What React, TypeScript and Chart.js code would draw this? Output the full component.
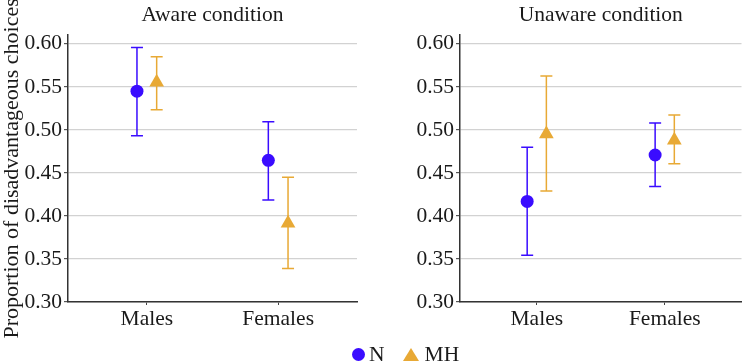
import React, { useEffect, useRef } from "react";
import { Chart, registerables } from "chart.js";

Chart.register(...registerables);

// Categories and series
const categories = ["Males", "Females"];
const seriesNames = ["N", "MH"];
const panelTitles = ["Aware condition", "Unaware condition"];
const yAxisTitle = "Proportion of disadvantageous choices";
const yTicks = [0.3, 0.35, 0.4, 0.45, 0.5, 0.55, 0.6];

// Aware condition: means and confidence limits per category
const awareN = [0.545, 0.4646];
const awareNLow = [0.4932, 0.4184];
const awareNHigh = [0.5957, 0.5096];
const awareMH = [0.5554, 0.3914];
const awareMHLow = [0.5235, 0.339];
const awareMHHigh = [0.585, 0.445];

// Unaware condition
const unawareN = [0.4169, 0.4708];
const unawareNLow = [0.3544, 0.4343];
const unawareNHigh = [0.4797, 0.508];
const unawareMH = [0.4952, 0.488];
const unawareMHLow = [0.4289, 0.4607];
const unawareMHHigh = [0.5627, 0.5173];

const COLOR_N = "#3a0cff";
const COLOR_MH = "#e8a935";
const FONT = "'Liberation Serif', 'Times New Roman', serif";
const FONT_SIZE = 21.5;
const CAPTION_SIZE = 22;
const DODGE = 0.075;

type Series = { mean: number[]; low: number[]; high: number[] };

const errorBarPlugin = {
  id: "errorBars",
  beforeDatasetsDraw(chart: any) {
    const { ctx, scales } = chart;
    const xs = scales.x;
    const ys = scales.y;
    chart.data.datasets.forEach((ds: any) => {
      const low: number[] = ds.errLow;
      const high: number[] = ds.errHigh;
      ctx.save();
      ctx.strokeStyle = ds.borderColor;
      ctx.lineWidth = 1.5;
      ds.data.forEach((pt: any, i: number) => {
        const x = xs.getPixelForValue(pt.x);
        const y1 = ys.getPixelForValue(low[i]);
        const y2 = ys.getPixelForValue(high[i]);
        const cap = 6;
        ctx.beginPath();
        ctx.moveTo(x, y1);
        ctx.lineTo(x, y2);
        ctx.moveTo(x - cap, y1);
        ctx.lineTo(x + cap, y1);
        ctx.moveTo(x - cap, y2);
        ctx.lineTo(x + cap, y2);
        ctx.stroke();
      });
      ctx.restore();
    });
  },
};

// Rotated y-axis caption, centred on the plot area at the left edge
const yCaptionPlugin = {
  id: "yCaption",
  afterDraw(chart: any) {
    const text = chart.options.plugins.yCaption?.text;
    if (!text) return;
    const { ctx, chartArea } = chart;
    ctx.save();
    ctx.translate(12, (chartArea.top + chartArea.bottom) / 2);
    ctx.rotate(-Math.PI / 2);
    ctx.fillStyle = "#1a1a1a";
    ctx.font = `${CAPTION_SIZE}px ${FONT}`;
    ctx.textAlign = "center";
    ctx.textBaseline = "middle";
    ctx.fillText(text, 0, 0);
    ctx.restore();
  },
};

function makeDataset(label: string, s: Series, offset: number, color: string, style: string, radius: number) {
  return {
    label,
    data: s.mean.map((v, i) => ({ x: i + 1 + offset, y: v })),
    errLow: s.low,
    errHigh: s.high,
    backgroundColor: color,
    borderColor: color,
    borderWidth: 0,
    pointStyle: style,
    pointRadius: radius,
    showLine: false,
  };
}

function Panel({
  title,
  n,
  mh,
  caption,
  yWidth,
  padRight,
  width,
}: {
  title: string;
  n: Series;
  mh: Series;
  caption: string;
  yWidth: number;
  padRight: number;
  width: number;
}) {
  const ref = useRef<HTMLCanvasElement>(null);
  useEffect(() => {
    if (!ref.current) return;
    const chart = new Chart(ref.current, {
      type: "scatter",
      data: {
        datasets: [
          makeDataset(seriesNames[0], n, -DODGE, COLOR_N, "circle", 6.5) as any,
          makeDataset(seriesNames[1], mh, DODGE, COLOR_MH, "triangle", 8.5) as any,
        ],
      },
      options: {
        responsive: false,
        animation: false,
        devicePixelRatio: 1,
        layout: { padding: { left: 0, right: padRight, top: 0, bottom: 0 } },
        plugins: {
          legend: { display: false },
          tooltip: { enabled: false },
          yCaption: { text: caption },
          title: {
            display: true,
            text: title,
            fullSize: false,
            color: "#1a1a1a",
            font: { family: FONT, size: FONT_SIZE, weight: "normal" },
            padding: { top: 2, bottom: 7 },
          },
        } as any,
        scales: {
          x: {
            type: "linear",
            min: 0.4,
            max: 2.6,
            afterBuildTicks: (axis: any) => {
              axis.ticks = categories.map((_, i) => ({ value: i + 1 }));
            },
            afterFit: (axis: any) => {
              axis.height = 62;
            },
            ticks: {
              callback: (v: any) => categories[Math.round(Number(v)) - 1] ?? "",
              color: "#1a1a1a",
              font: { family: FONT, size: FONT_SIZE },
              padding: 1,
              maxRotation: 0,
              autoSkip: false,
            },
            grid: { display: true, drawOnChartArea: false, tickLength: 3, tickColor: "#444", lineWidth: 1 },
            border: { display: true, color: "#333", width: 1.5 },
          },
          y: {
            min: 0.3,
            max: 0.6105,
            afterBuildTicks: (axis: any) => {
              axis.ticks = yTicks.map((v) => ({ value: v }));
            },
            afterFit: (axis: any) => {
              axis.width = yWidth;
            },
            ticks: {
              callback: (v: any) => Number(v).toFixed(2),
              color: "#1a1a1a",
              font: { family: FONT, size: FONT_SIZE },
              padding: 2,
            },
            grid: { color: "#d2d2d2", lineWidth: 1.2, tickLength: 4, tickColor: "#555" },
            border: { display: true, color: "#333", width: 1.5 },
          },
        },
      },
      plugins: [errorBarPlugin, yCaptionPlugin],
    });
    return () => chart.destroy();
  }, []);
  return <canvas ref={ref} width={width} height={364} style={{ display: "block" }} />;
}

export default function App() {
  useEffect(() => {
    document.body.style.margin = "0";
  }, []);
  return (
    <div style={{ position: "relative", width: 750, height: 364, background: "#fff", overflow: "hidden" }}>
      <div style={{ display: "flex" }}>
        <Panel
          title={panelTitles[0]}
          n={{ mean: awareN, low: awareNLow, high: awareNHigh }}
          mh={{ mean: awareMH, low: awareMHLow, high: awareMHHigh }}
          caption={yAxisTitle}
          yWidth={68}
          padRight={18}
          width={375}
        />
        <Panel
          title={panelTitles[1]}
          n={{ mean: unawareN, low: unawareNLow, high: unawareNHigh }}
          mh={{ mean: unawareMH, low: unawareMHLow, high: unawareMHHigh }}
          caption=""
          yWidth={85}
          padRight={1}
          width={375}
        />
      </div>
      <div
        style={{
          position: "absolute",
          top: 343,
          left: 352,
          display: "flex",
          alignItems: "center",
          fontFamily: FONT,
          fontSize: FONT_SIZE,
          color: "#1a1a1a",
          lineHeight: "22px",
        }}
      >
        <span style={{ width: 13, height: 13, borderRadius: "50%", background: COLOR_N, display: "inline-block" }} />
        <span style={{ marginLeft: 4 }}>{seriesNames[0]}</span>
        <span
          style={{
            marginLeft: 18,
            width: 0,
            height: 0,
            borderLeft: "8px solid transparent",
            borderRight: "8px solid transparent",
            borderBottom: `13px solid ${COLOR_MH}`,
            display: "inline-block",
          }}
        />
        <span style={{ marginLeft: 6 }}>{seriesNames[1]}</span>
      </div>
    </div>
  );
}
